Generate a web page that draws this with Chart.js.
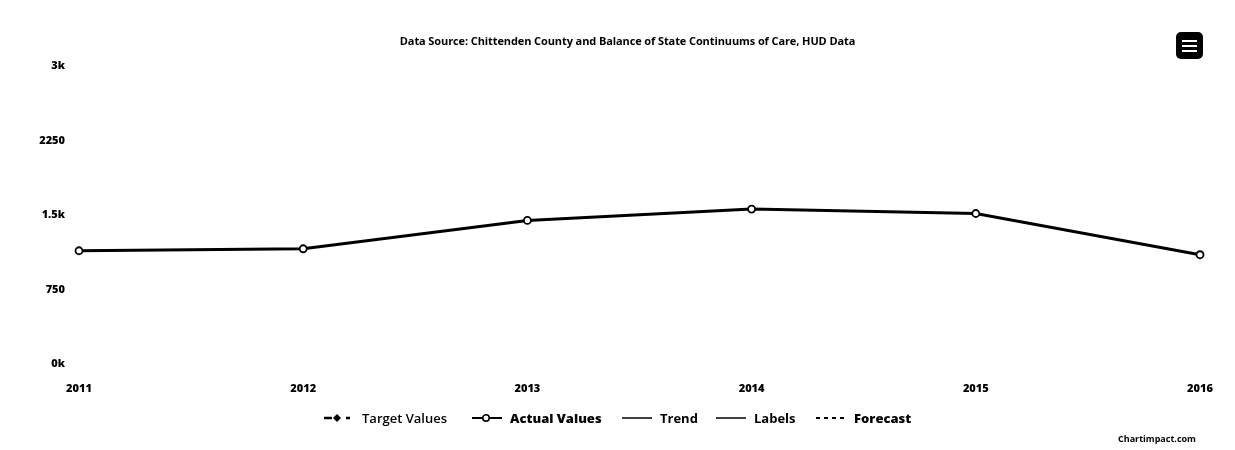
<!DOCTYPE html>
<html>
<head>
<meta charset="utf-8">
<script src="https://cdn.jsdelivr.net/npm/chart.js@4/dist/chart.umd.min.js"></script>
<style>
    body { margin: 0; background: #fff; font-family: "Open Sans", sans-serif; }
    .wrap { position: relative; width: 1235px; height: 450px; overflow: hidden; }
    #chart { position: absolute; left: 0; top: 0; }
    .title { position: absolute; top: 33px; left: 0; width: 1255px; text-align: center; font-size: 11px; font-weight: 700; color: #000; letter-spacing: -0.1px; }
    .menu { position: absolute; left: 1176px; top: 32px; width: 27px; height: 27px; background: #000; border-radius: 5px; }
    .menu i { position: absolute; left: 6px; width: 15px; height: 2px; background: #fff; }
    .legend { position: absolute; top: 409px; left: 0; width: 1235px; height: 18px; }
    .legend .item { position: absolute; top: 0; display: flex; align-items: center; font-size: 13px; color: #000; }
    .legend svg { margin-right: 8px; }
    .credit { position: absolute; left: 1118px; top: 432px; font-size: 9px; font-weight: 700; color: #000; }
</style>
</head>
<body>
<div class="wrap">
    <canvas id="chart" width="1235" height="450"></canvas>
    <div class="title" id="title"></div>
    <div class="menu"><i style="top:8px"></i><i style="top:13px"></i><i style="top:18px"></i></div>
    <div class="legend" id="legend"></div>
    <div class="credit">Chartimpact.com</div>
</div>
<script>
// 데이터
const chartTitle = 'Data Source: Chittenden County and Balance of State Continuums of Care, HUD Data';
const years = ['2011', '2012', '2013', '2014', '2015', '2016'];
const actualValues = [1140, 1160, 1445, 1560, 1515, 1100];
const yTickValues = [0, 750, 1500, 2250, 3000];
const yTickLabels = ['0k', '750', '1.5k', '2250', '3k'];
const legendNames = ['Target Values', 'Actual Values', 'Trend', 'Labels', 'Forecast'];

document.getElementById('title').textContent = chartTitle;

// 범례 아이콘
const legendIcons = [
    '<svg width="30" height="10"><line x1="0" y1="5" x2="8" y2="5" stroke="#000" stroke-width="2.5"/><path d="M13 1 L17 5 L13 9 L9 5 Z" fill="#000"/><line x1="22" y1="5" x2="26" y2="5" stroke="#000" stroke-width="2.5"/></svg>',
    '<svg width="30" height="10"><line x1="0" y1="5" x2="30" y2="5" stroke="#000" stroke-width="2"/><circle cx="14" cy="5" r="3.2" fill="#fff" stroke="#000" stroke-width="1.6"/></svg>',
    '<svg width="30" height="10"><line x1="0" y1="5" x2="30" y2="5" stroke="#000" stroke-width="1.5"/></svg>',
    '<svg width="30" height="10"><line x1="0" y1="5" x2="30" y2="5" stroke="#000" stroke-width="1.5"/></svg>',
    '<svg width="30" height="10"><line x1="0" y1="5" x2="30" y2="5" stroke="#000" stroke-width="2" stroke-dasharray="4 4"/></svg>'
];
const legendLeft = [324, 472, 622, 716, 816];
const legendWeight = [600, 800, 700, 700, 800];
const legendEl = document.getElementById('legend');
legendNames.forEach((name, i) => {
    const item = document.createElement('div');
    item.className = 'item';
    item.style.left = legendLeft[i] + 'px';
    item.style.fontWeight = legendWeight[i];
    item.innerHTML = legendIcons[i] + '<span>' + name + '</span>';
    legendEl.appendChild(item);
});

// 차트
new Chart(document.getElementById('chart'), {
    type: 'line',
    data: {
        labels: years,
        datasets: [{
            label: 'Actual Values',
            data: actualValues,
            borderColor: '#000',
            borderWidth: 3,
            backgroundColor: '#fff',
            pointBackgroundColor: '#fff',
            pointBorderColor: '#000',
            pointBorderWidth: 1.8,
            pointRadius: 3.5,
            tension: 0
        }]
    },
    options: {
        responsive: false,
        animation: false,
        layout: { padding: { top: 66, right: 35, left: 0, bottom: 0 } },
        plugins: {
            legend: { display: false },
            tooltip: { enabled: false }
        },
        scales: {
            x: {
                offset: false,
                grid: { display: false },
                border: { display: false },
                ticks: {
                    color: '#000',
                    padding: 10,
                    maxRotation: 0,
                    font: { family: 'Open Sans', size: 11, weight: 800 }
                },
                afterFit: scale => { scale.height = 86; }
            },
            y: {
                min: 0,
                max: 3000,
                grid: { display: false },
                border: { display: false },
                afterBuildTicks: scale => { scale.ticks = yTickValues.map(v => ({ value: v })); },
                ticks: {
                    color: '#000',
                    padding: 6,
                    font: { family: 'Open Sans', size: 11, weight: 800 },
                    callback: value => yTickLabels[yTickValues.indexOf(value)]
                },
                afterFit: scale => { scale.width = 79; }
            }
        }
    }
});
</script>
</body>
</html>
